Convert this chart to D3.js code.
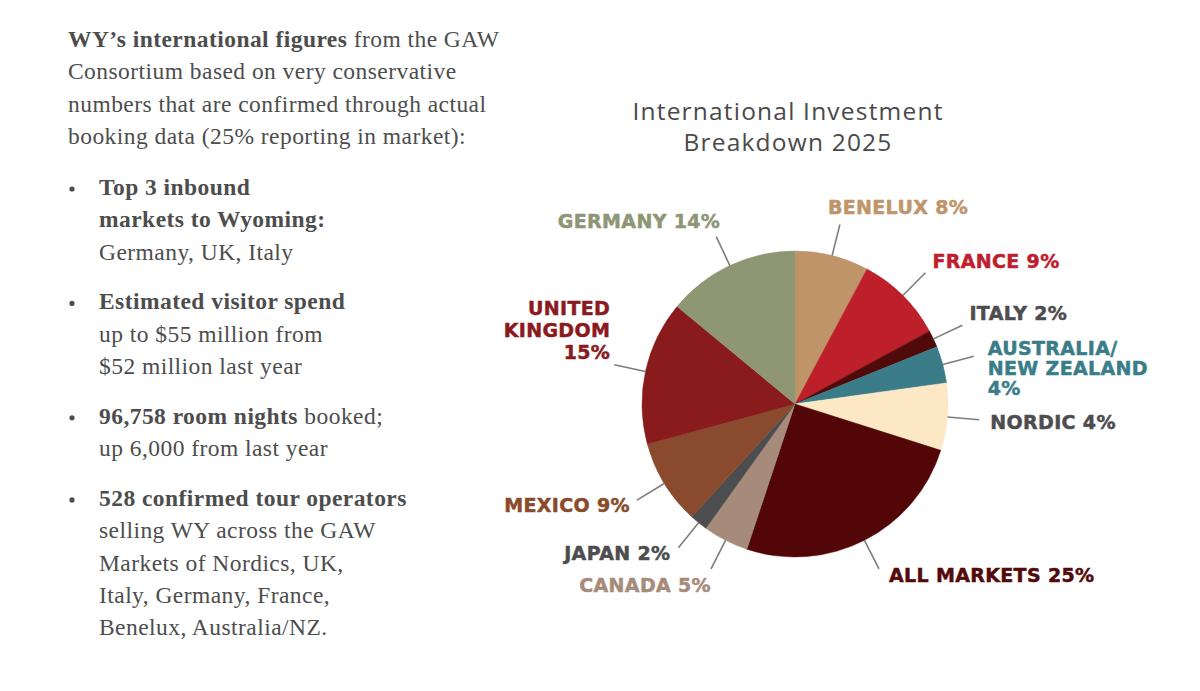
<!DOCTYPE html>
<html>
<head>
<meta charset="utf-8">
<script src="https://cdn.jsdelivr.net/npm/d3@7"></script>
<style>
  body { margin: 0; background: #fff; }
  svg { display: block; }
</style>
</head>
<body>
<div id="chart"></div>
<script>
// slice sizes (share of the circle, %)
const markets = ["BENELUX", "FRANCE", "ITALY", "AUSTRALIA/ NEW ZEALAND", "NORDIC",
  "ALL MARKETS", "CANADA", "JAPAN", "MEXICO", "UNITED KINGDOM", "GERMANY"];
const shares = [7.8, 9.3, 1.8, 3.9, 7.1, 25.2, 4.8, 1.9, 9.0, 15.2, 14.0];
// the percentages printed on the labels
const labelPct = ["8%", "9%", "2%", "4%", "4%", "25%", "5%", "2%", "9%", "15%", "14%"];
// label text split into lines
const labelLines = [
  ["BENELUX 8%"], ["FRANCE 9%"], ["ITALY 2%"], ["AUSTRALIA/", "NEW ZEALAND", "4%"],
  ["NORDIC 4%"], ["ALL MARKETS 25%"], ["CANADA 5%"], ["JAPAN 2%"], ["MEXICO 9%"],
  ["UNITED", "KINGDOM", "15%"], ["GERMANY 14%"]
];
const sliceColors = ["#c09469", "#bd1f2b", "#4f0a09", "#3a7d88", "#fde8c6",
  "#520607", "#a68b7a", "#4c4d4f", "#8a4a2d", "#8a1b1c", "#8f9673"];
const labelColors = ["#c0956a", "#be1e2d", "#4d4d4f", "#3a7d88", "#4d4d4f",
  "#520a0b", "#a68b7a", "#4d4d4f", "#8a4b2b", "#8b1a1f", "#8e9675"];

// left column copy: each line is a list of [text, bold]
const intro = [
  [["WY\u2019s international figures", true], [" from the GAW", false]],
  [["Consortium based on very conservative", false]],
  [["numbers that are confirmed through actual", false]],
  [["booking data (25% reporting in market):", false]]
];
const bullets = [
  [[["Top 3 inbound", true]], [["markets to Wyoming:", true]], [["Germany, UK, Italy", false]]],
  [[["Estimated visitor spend", true]], [["up to $55 million from", false]], [["$52 million last year", false]]],
  [[["96,758 room nights", true], [" booked;", false]], [["up 6,000 from last year", false]]],
  [[["528 confirmed tour operators", true]], [["selling WY across the GAW", false]],
   [["Markets of Nordics, UK,", false]], [["Italy, Germany, France,", false]],
   [["Benelux, Australia/NZ.", false]]]
];
const title = ["International Investment", "Breakdown 2025"];

const W = 1200, H = 691;
const svg = d3.select("#chart").append("svg")
    .attr("width", W)
    .attr("height", H);

svg.append("rect").attr("width", W).attr("height", H).attr("fill", "#fff");

// ---- left text block
const serif = "'Liberation Serif', 'DejaVu Serif', serif";
const textCol = "#4d4d4d";
const lineH = 32.3;

function writeLine(x, y, segs) {
    let t = svg.append("text")
        .attr("x", x).attr("y", y)
        .attr("font-family", serif)
        .attr("font-size", 23.5)
        .attr("letter-spacing", 0.45)
        .attr("fill", textCol);
    segs.forEach(function (s) {
        t.append("tspan")
            .attr("font-weight", s[1] ? "bold" : "normal")
            .text(s[0]);
    });
}

intro.forEach(function (segs, i) {
    writeLine(68, 47 + i * lineH, segs);
});

let y = 195;
bullets.forEach(function (b) {
    svg.append("circle").attr("cx", 72).attr("cy", y - 6).attr("r", 2.6).attr("fill", textCol);
    b.forEach(function (segs, j) {
        writeLine(99, y + j * lineH, segs);
    });
    y += b.length * lineH + 17.5;
});

// ---- chart title
svg.selectAll(".title")
    .data(title)
    .enter().append("text")
    .attr("class", "title")
    .attr("x", 788)
    .attr("y", function (d, i) { return 120 + i * 31; })
    .attr("text-anchor", "middle")
    .attr("font-family", "'Open Sans', 'DejaVu Sans', sans-serif")
    .attr("font-size", 24.5)
    .attr("letter-spacing", 1.2)
    .attr("fill", "#4a4a4a")
    .text(function (d) { return d; });

// ---- pie
const cx = 795, cy = 404, R = 153, Rout = 185;
const pie = d3.pie().sort(null).value(function (d) { return d; });
const arcs = pie(shares);
const arc = d3.arc().innerRadius(0).outerRadius(R);

const g = svg.append("g").attr("transform", "translate(" + cx + "," + cy + ")");

g.selectAll("path.slice")
    .data(arcs)
    .enter().append("path")
    .attr("class", "slice")
    .attr("d", arc)
    .attr("fill", function (d, i) { return sliceColors[i]; })
    .attr("stroke", function (d, i) { return sliceColors[i]; })
    .attr("stroke-width", 0.5);

function polar(a, r) {
    return [Math.sin(a) * r, -Math.cos(a) * r];
}

// leader lines, radial from the rim at each slice's middle
g.selectAll("line.leader")
    .data(arcs)
    .enter().append("line")
    .attr("class", "leader")
    .attr("x1", function (d) { return polar((d.startAngle + d.endAngle) / 2, R)[0]; })
    .attr("y1", function (d) { return polar((d.startAngle + d.endAngle) / 2, R)[1]; })
    .attr("x2", function (d) { return polar((d.startAngle + d.endAngle) / 2, Rout)[0]; })
    .attr("y2", function (d) { return polar((d.startAngle + d.endAngle) / 2, Rout)[1]; })
    .attr("stroke", "#7d7d7d")
    .attr("stroke-width", 1.6);

// label placement relative to the leader's outer end: [dx, dy of first baseline, anchor]
const labelOffset = [
    [-12, -11, "start"], [7, -5, "start"], [7, -5, "start"], [14, -1, "start"],
    [11, 9, "start"], [10, 13, "start"], [0, 23, "end"], [-8, 12, "end"],
    [-7, 12, "end"], [-4, -50, "end"], [4, -9, "end"]
];

arcs.forEach(function (d, i) {
    const p = polar((d.startAngle + d.endAngle) / 2, Rout);
    const off = labelOffset[i];
    const t = g.append("text")
        .attr("x", p[0] + off[0])
        .attr("y", p[1] + off[1])
        .attr("text-anchor", off[2])
        .attr("font-family", "'DejaVu Sans', sans-serif")
        .attr("font-weight", "bold")
        .attr("font-size", 19)
        .attr("letter-spacing", 0.35)
        .attr("fill", labelColors[i])
        .attr("stroke", labelColors[i])
        .attr("stroke-width", 0.5);
    labelLines[i].forEach(function (ln, k) {
        t.append("tspan")
            .attr("x", p[0] + off[0])
            .attr("dy", k === 0 ? 0 : (i === 3 ? 20 : 22))
            .text(ln);
    });
});
</script>
</body>
</html>
